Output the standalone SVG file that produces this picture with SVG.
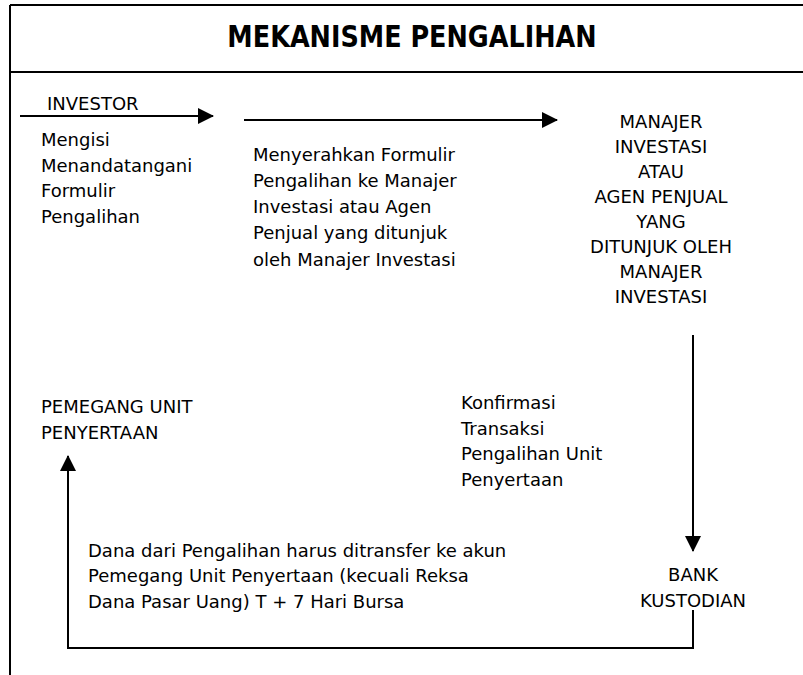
<svg xmlns="http://www.w3.org/2000/svg" width="803" height="675" viewBox="0 0 803 675">
<defs>
<style>
.t{font-family:"DejaVu Sans",Verdana,sans-serif;font-size:18px;fill:#000}
.c{text-anchor:middle}
.title{font-family:"DejaVu Sans",Verdana,sans-serif;font-size:30px;font-weight:bold;fill:#000;text-anchor:middle}
.ln{stroke:#000;stroke-width:2;fill:none}
</style>
<marker id="ah" markerUnits="userSpaceOnUse" markerWidth="16" markerHeight="16" viewBox="0 0 16 16" refX="15" refY="8" orient="auto">
<path d="M0,0 L16,8 L0,16 z" fill="#000"/>
</marker>
</defs>
<rect width="803" height="675" fill="#fff"/>
<g id="frame" class="ln">
<path d="M10,5 H803 M10,72 H803 M10,5 V675" class="ln"/>
</g>
<g id="title"><text class="title" transform="translate(412,47) scale(0.85,1)" x="0" y="0">MEKANISME PENGALIHAN</text></g>
<g id="investor">
<text class="t" x="47" y="110">INVESTOR</text>
<text class="t" x="41" y="146">Mengisi</text>
<text class="t" x="41" y="172">Menandatangani</text>
<text class="t" x="41" y="197">Formulir</text>
<text class="t" x="41" y="223">Pengalihan</text>
</g>
<g id="menyerahkan">
<text class="t" x="253" y="161">Menyerahkan Formulir</text>
<text class="t" x="253" y="187">Pengalihan ke Manajer</text>
<text class="t" x="253" y="213">Investasi atau Agen</text>
<text class="t" x="253" y="239">Penjual yang ditunjuk</text>
<text class="t" x="253" y="266">oleh Manajer Investasi</text>
</g>
<g id="manajer">
<text class="t c" x="661" y="128">MANAJER</text>
<text class="t c" x="661" y="153">INVESTASI</text>
<text class="t c" x="661" y="178">ATAU</text>
<text class="t c" x="661" y="203">AGEN PENJUAL</text>
<text class="t c" x="661" y="228">YANG</text>
<text class="t c" x="661" y="253">DITUNJUK OLEH</text>
<text class="t c" x="661" y="278">MANAJER</text>
<text class="t c" x="661" y="303">INVESTASI</text>
</g>
<g id="pemegang">
<text class="t" x="41" y="413">PEMEGANG UNIT</text>
<text class="t" x="41" y="439">PENYERTAAN</text>
</g>
<g id="konfirmasi">
<text class="t" x="461" y="409">Konfirmasi</text>
<text class="t" x="461" y="435">Transaksi</text>
<text class="t" x="461" y="460">Pengalihan Unit</text>
<text class="t" x="461" y="486">Penyertaan</text>
</g>
<g id="dana">
<text class="t" x="88" y="557">Dana dari Pengalihan harus ditransfer ke akun</text>
<text class="t" x="88" y="582">Pemegang Unit Penyertaan (kecuali Reksa</text>
<text class="t" x="88" y="608">Dana Pasar Uang) T + 7 Hari Bursa</text>
</g>
<g id="bank">
<text class="t c" x="693" y="581">BANK</text>
<text class="t c" x="693" y="607">KUSTODIAN</text>
</g>
<g id="connectors" class="ln">
<path class="ln" d="M20,116 H213" marker-end="url(#ah)"/>
<path class="ln" d="M244,120 H557" marker-end="url(#ah)"/>
<path class="ln" d="M693,335 V551" marker-end="url(#ah)"/>
<path class="ln" d="M693,610 V648 H68 V456" marker-end="url(#ah)"/>
</g>
</svg>
